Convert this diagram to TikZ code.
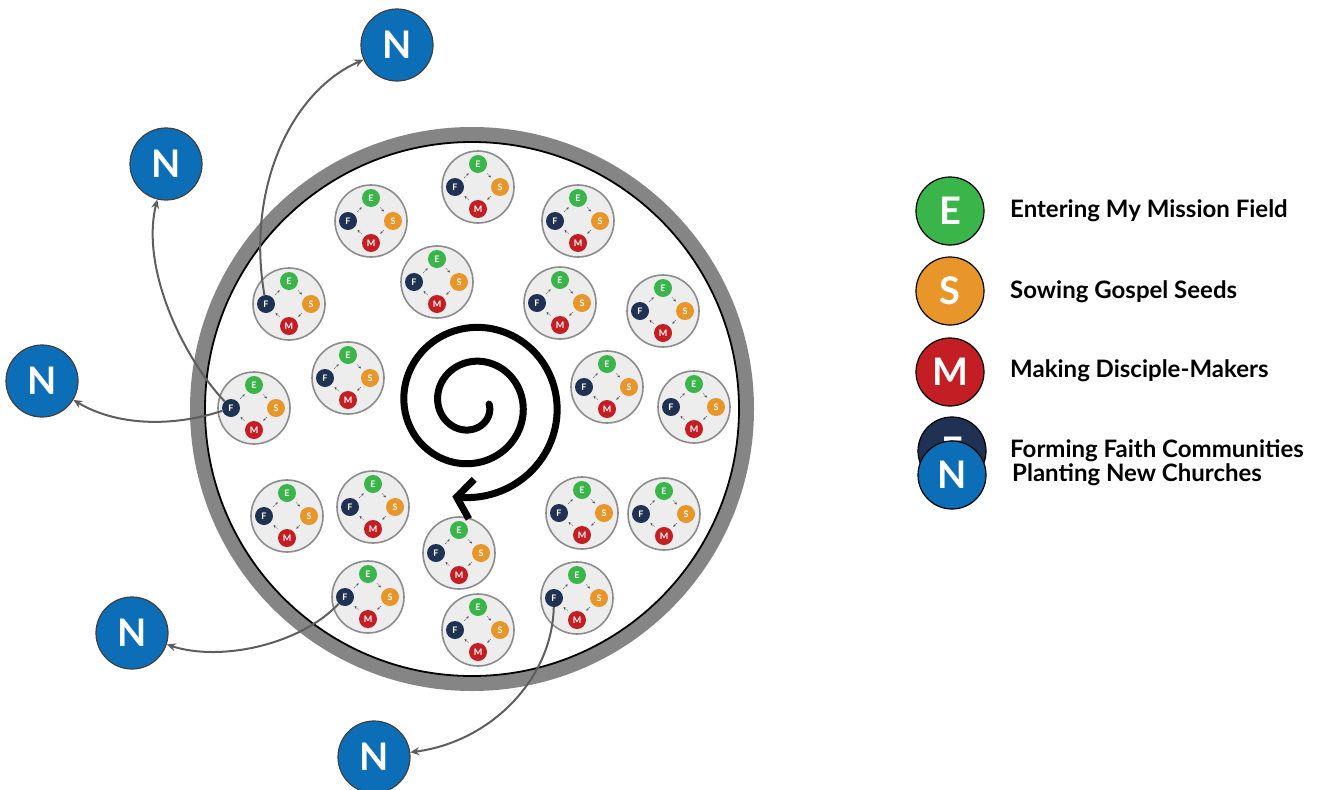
\documentclass[tikz,border=0pt]{standalone}
\usepackage{fontspec}
\setmainfont{Lato}
\usetikzlibrary{arrows.meta}
\definecolor{cE}{HTML}{3AB54A}
\definecolor{cS}{HTML}{E8952A}
\definecolor{cM}{HTML}{C21E24}
\definecolor{cF}{HTML}{1F3253}
\definecolor{cN}{HTML}{0B6EB6}
\definecolor{ringgray}{HTML}{858585}
\definecolor{clfill}{HTML}{EDEDED}
\definecolor{clline}{HTML}{8C8C8C}
\definecolor{conn}{HTML}{5E5E5E}
\begin{document}
\begin{tikzpicture}[x=1pt,y=-1pt,
  cluster/.style={circle, draw=clline, line width=1.6pt, fill=clfill, minimum size=72pt, inner sep=0pt},
  dot/.style={circle, fill=#1, minimum size=18pt, inner sep=0pt, text=white, font=\bfseries\fontsize{9}{9}\selectfont},
  legdot/.style={circle, draw=black, line width=1.2pt, fill=#1, minimum size=68pt, inner sep=0pt, text=white, font=\bfseries\fontsize{38}{38}\selectfont},
  nnode/.style={circle, draw=black!75, line width=1.2pt, fill=cN, minimum size=72pt, inner sep=0pt, text=white, font=\bfseries\fontsize{38}{38}\selectfont},
  flow/.style={draw=conn, line width=2pt, -{Stealth[length=9pt,width=8pt]}},
  tinyarrow/.style={draw=black!70, line width=0.6pt, densely dotted, shorten <=4pt, shorten >=4pt, -{Stealth[length=2.5pt,width=2.5pt]}},
  legtext/.style={anchor=base west, inner sep=0pt, font=\bfseries\fontsize{24}{24}\selectfont}
]
\useasboundingbox (0,0) rectangle (1318,790);
\fill[white] (0,0) rectangle (1318,790);

% mission field ring
\draw[ringgray, line width=15pt] (472,409) circle (274.5);
\draw[black, line width=1.8pt] (472,409) circle (267);

% clusters
\foreach \n/\cx/\cy in {1/478/187, 2/371/221, 3/578/221, 4/289/304, 5/437/282, 6/560/303, 7/663/311,
  8/348/378, 9/254/408, 10/607/387, 11/694/407, 12/287/516, 13/373/507, 14/582/513, 15/664/514,
  16/459/553, 17/368/597, 18/577/598, 19/478/630} {
  \node[cluster] (c\n) at (\cx,\cy) {};
  \node[dot=cE] (c\n-E) at (\cx,{\cy-23}) {E};
  \node[dot=cS] (c\n-S) at ({\cx+22},\cy) {S};
  \node[dot=cM] (c\n-M) at (\cx,{\cy+22}) {M};
  \node[dot=cF] (c\n-F) at ({\cx-23},\cy) {F};
  \draw[tinyarrow] (c\n-E) -- (c\n-S);
  \draw[tinyarrow] (c\n-S) -- (c\n-M);
  \draw[tinyarrow] (c\n-M) -- (c\n-F);
  \draw[tinyarrow] (c\n-F) -- (c\n-E);
}

% spiral
\draw[line width=7pt, line cap=round, -{Straight Barb[length=15pt,width=40pt]}]
  plot[domain=0:822, samples=260, smooth] ({472+(17+0.0944*\x)*cos(\x)}, {404+(17+0.0944*\x)*sin(\x)});

% new church nodes
\node[nnode] (N1) at (397,45) {N};
\node[nnode] (N2) at (166,164) {N};
\node[nnode] (N3) at (42,381) {N};
\node[nnode] (N4) at (132,633) {N};
\node[nnode] (N5) at (374,757) {N};

% planting connectors
\draw[flow] (c4-F) .. controls (246,190) and (290,92) .. (N1);
\draw[flow] (c9-F) .. controls (185,360) and (140,270) .. (N2);
\draw[flow] (c9-F) .. controls (170,428) and (115,425) .. (N3);
\draw[flow] (c17-F) .. controls (300,645) and (220,662) .. (N4);
\draw[flow] (c18-F) .. controls (552,680) and (490,742) .. (N5);

% legend
\node[legdot=cE] (LE) at (950,211) {E};
\node[legdot=cS] (LS) at (950,291) {S};
\node[legdot=cM] (LM) at (950,372) {M};
\node[legdot=cF] (LF) at (952,451) {F};
\node[legdot=cN] (LN) at (952,475) {N};
\node[legtext] (tE) at (1010,217) {Entering My Mission Field};
\node[legtext] (tS) at (1010,298) {Sowing Gospel Seeds};
\node[legtext] (tM) at (1010,377) {Making Disciple-Makers};
\node[legtext] (tF) at (1010,457) {Forming Faith Communities};
\node[legtext] (tN) at (1012,481) {Planting New Churches};
\end{tikzpicture}
\end{document}
